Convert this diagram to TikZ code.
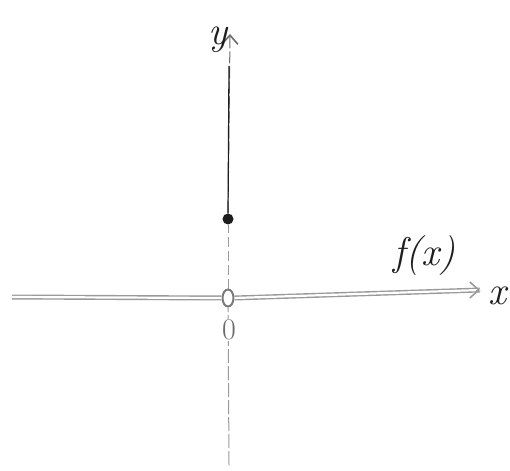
\documentclass[tikz,border=0pt]{standalone}
\usepackage{tikz}
\usetikzlibrary{arrows.meta,positioning,calc,shapes.geometric}
\definecolor{axisgray}{HTML}{9A9A9A}
\definecolor{inkdark}{HTML}{1E1E1E}
\tikzset{
  axisline/.style={draw=axisgray, line width=1pt},
  funcline/.style={draw=axisgray, line width=1.4pt, double=white, double distance=2.2pt},
  axisarrow/.style={-{Straight Barb[length=9pt, width=16pt, line width=1.6pt]}},
  openpt/.style={ellipse, draw=axisgray!80!black, line width=2pt, minimum width=11pt, minimum height=17pt, inner sep=0pt},
  filledpt/.style={circle, fill=inkdark, minimum size=11pt, inner sep=0pt},
  handlabel/.style={font=\fontsize{40}{40}\selectfont\itshape, text=inkdark, inner sep=0pt}
}
\begin{document}
\begin{tikzpicture}[x=1pt, y=-1pt]
\useasboundingbox (0,0) rectangle (510,470);
% axes
\coordinate (xstart) at (12,297);
\coordinate (xend) at (480,290);
\coordinate (xtail) at (476,290);
\coordinate (ybot) at (229,465);
\coordinate (ytop) at (230,34);
\coordinate (ydark) at (229,66);
\node[openpt] (orig) at (228,298) {};
\node[filledpt] (pt) at (228,219) {};
\draw[axisline, dash pattern=on 14pt off 3pt] (ybot) -- (orig);
\draw[axisline, dash pattern=on 10pt off 4pt] (orig) -- (pt);
\draw[axisline, axisarrow, draw=axisgray!70!black, dash pattern=on 12pt off 3pt] (pt) -- (ytop);
\draw[draw=inkdark, line width=1.2pt] (pt.north) -- (ydark);
\draw[funcline] (xstart) -- (orig.west);
\draw[funcline] (orig.east) -- (xend);
\draw[axisline, axisarrow] (xtail) -- (xend);
% labels
\node[handlabel] (ylab) at (218,40) {y};
\node[handlabel] (xlab) at (497,296) {x};
\node[handlabel] (flab) at (424,256) {f(x)};
\node[handlabel, text=axisgray!70!black, fill=white, inner sep=1pt, font=\fontsize{30}{30}\selectfont\upshape] (zero) at (229,330) {0};
\end{tikzpicture}
\end{document}
